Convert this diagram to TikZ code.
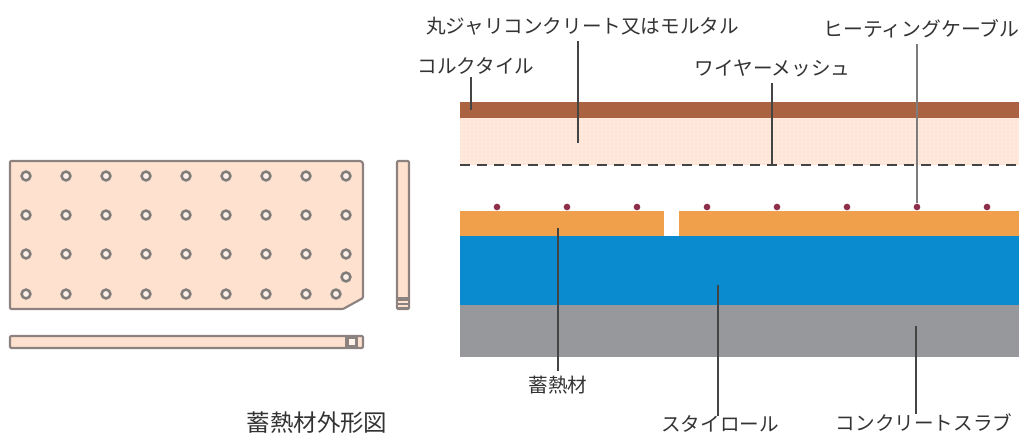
\documentclass[tikz,border=0pt]{standalone}
\usepackage{fontspec}
\usetikzlibrary{patterns}
\setmainfont{Noto Sans CJK JP}
\definecolor{panelfill}{HTML}{FFE1D0}
\definecolor{paneledge}{HTML}{8C8280}
\definecolor{holec}{HTML}{807C7A}
\definecolor{corkc}{HTML}{AB6240}
\definecolor{mortarc}{HTML}{FFE8DC}
\definecolor{speck}{HTML}{FBD5BF}
\definecolor{storec}{HTML}{F0A04B}
\definecolor{styroc}{HTML}{0A8BD0}
\definecolor{slabc}{HTML}{96989B}
\definecolor{cablec}{HTML}{8E2F4A}
\definecolor{leader}{HTML}{444444}
\definecolor{textc}{HTML}{333333}
\tikzset{
  layer/.style={draw=none,inner sep=0pt,outer sep=0pt,anchor=north west},
  lab/.style={inner sep=0pt,outer sep=0pt,text=textc,font=\fontsize{14.7pt}{16pt}\selectfont},
  bigger/.style={font=\fontsize{17.6pt}{19pt}\selectfont},
  leaderline/.style={draw=leader,line width=1.2pt},
  outline/.style={draw=paneledge,line width=1.6pt,fill=panelfill,rounded corners=0.8pt},
  hole/.style={circle,draw=holec,line width=1.9pt,fill=panelfill!50!white,minimum size=6.6pt,inner sep=0pt},
  cabledot/.style={circle,fill=cablec,minimum size=5pt,inner sep=0pt},
  mesh/.style={draw=leader,line width=1.5pt,dash pattern=on 7.5pt off 5.3pt}
}
\begin{document}
\begin{tikzpicture}[x=0.75pt,y=-0.75pt]
\useasboundingbox (0,0) rectangle (1023,436);
% plan view
\draw[outline] (10,161) -- (361,161) -- (363,163) -- (363,298) -- (343,309) -- (10,309) -- cycle;
\foreach \yy/\rr in {176/a,215/b,254/c}{
  \foreach \xx in {26,66,106,146,186,226,266,306,346}{
    \node[hole] (h\rr\xx) at (\xx,\yy) {};
  }
}
\foreach \xx in {26,66,106,146,186,226,266,306,336}{
  \node[hole] (hd\xx) at (\xx,294) {};
}
\node[hole] (hx) at (346,277) {};
% side view
\draw[outline] (397,161) rectangle (409,309);
\fill[paneledge] (398,297) rectangle (408,308);
\draw[panelfill,line width=0.8pt] (398,302) -- (408,302);
\draw[panelfill,line width=0.8pt] (398,306) -- (408,306);
% bottom view
\draw[outline] (10,336) rectangle (363,348);
\fill[paneledge] (345,337) rectangle (358,347);
\fill[panelfill!40!white] (349,339) rectangle (355,345);
% section layers
\node[layer,fill=slabc,minimum width=559*0.75pt,minimum height=52*0.75pt] (slab) at (460,305) {};
\node[layer,fill=styroc,minimum width=559*0.75pt,minimum height=69*0.75pt] (styro) at (460,236) {};
\node[layer,fill=storec,minimum width=204*0.75pt,minimum height=25*0.75pt] (storeA) at (460,211) {};
\node[layer,fill=storec,minimum width=340*0.75pt,minimum height=25*0.75pt] (storeB) at (679,211) {};
\node[layer,fill=mortarc,minimum width=559*0.75pt,minimum height=47*0.75pt] (mortar) at (460,118) {};
\fill[pattern=dots,pattern color=speck] (mortar.north west) rectangle (mortar.south east);
\node[layer,fill=corkc,minimum width=559*0.75pt,minimum height=16*0.75pt] (cork) at (460,102) {};
\draw[mesh] (mortar.south west) -- (mortar.south east);
\foreach \xx in {497,567,637,707,777,847,917,987}{
  \node[cabledot] (c\xx) at (\xx,207) {};
}
% labels
\node[lab] (lmortar) at (582.5,26) {丸ジャリコンクリート又はモルタル};
\node[lab] (lcork) at (476,66) {コルクタイル};
\node[lab,font=\fontsize{14.9pt}{16pt}\selectfont] (lheat) at (921.5,29) {ヒーティングケーブル};
\node[lab] (lmesh) at (772.5,68) {ワイヤーメッシュ};
\node[lab] (lstore) at (558,385) {蓄熱材};
\node[lab] (lstyro) at (720,424) {スタイロール};
\node[lab] (lslab) at (924,423) {コンクリートスラブ};
\node[lab,bigger] (ltitle) at (317,423) {蓄熱材外形図};
% leaders
\coordinate (ecork) at (471,110);
\coordinate (emortar) at (578,143);
\coordinate (emesh) at (772,165);
\coordinate (estore) at (558,228);
\coordinate (estyro) at (718,285);
\coordinate (eslab) at (916,326);
\draw[leaderline,shorten <=2pt] (lcork.south -| ecork) -- (ecork);
\draw[leaderline,shorten <=4.5pt] (lmortar.south -| emortar) -- (emortar);
\draw[leaderline,shorten <=4.5pt] (lmesh.south -| emesh) -- (emesh);
\draw[leaderline,draw=leader!70!white,line width=1.5pt,shorten <=4.5pt] (lheat.south -| c917) -- (c917);
\draw[leaderline,shorten <=4pt] (lstore.north -| estore) -- (estore);
\draw[leaderline] (lstyro.north -| estyro) -- (estyro);
\draw[leaderline] (lslab.north -| eslab) -- (eslab);
\end{tikzpicture}
\end{document}
